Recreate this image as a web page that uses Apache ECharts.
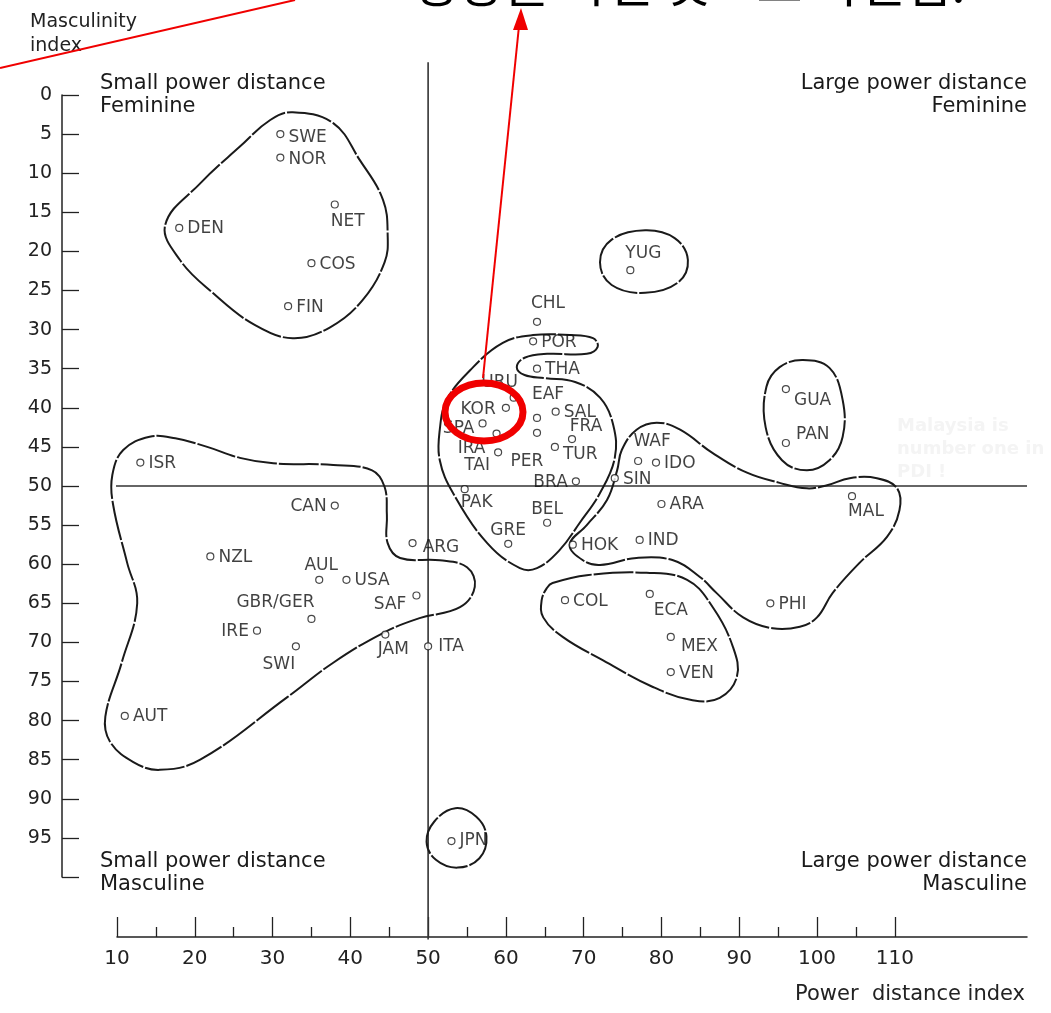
<!DOCTYPE html>
<html><head><meta charset="utf-8">
<script src="https://cdn.jsdelivr.net/npm/echarts@6/dist/echarts.min.js"></script>
<style>html,body{margin:0;padding:0;background:#fff}#c{width:1051px;height:1013px}</style>
</head><body><div id="c"></div>
<script>
// ---- data ----
const countries = ['SWE','NOR','DEN','NET','COS','FIN','ISR','CAN','NZL','AUL','USA','GBR/GER','IRE','SWI','AUT','ARG','SAF','JAM','ITA','JPN','YUG','CHL','POR','THA','URU','KOR','SPA','IRA','TAI','EAF','PER','SAL','FRA','TUR','BRA','PAK','BEL','GRE','HOK','IND','ARA','SIN','WAF','IDO','GUA','PAN','MAL','PHI','COL','ECA','MEX','VEN'];
const powerDistance = [31,31,18,38,35,32,13,38,22,36,39.5,35,28,33,11,48,48.5,44.5,50,53,76,64,63.5,64,61,60,57,58.8,59,64,64,66.4,68.5,66.3,69,54.7,65.3,60.3,68.6,77.2,80,74,77,79.3,96,96,104.5,94,67.6,78.5,81.2,81.2];
const masculinity  = [5,8,17,14,21.5,27,47,52.5,59,62,62,67,68.5,70.5,79.4,57.3,64,69,70.5,95.4,22.4,29,31.5,35,38.7,40,42,43.3,45.7,41.3,43.2,40.5,44,45,49.4,50.4,54.7,57.4,57.5,56.9,52.3,49,46.8,47,37.6,44.5,51.3,65,64.6,63.8,69.3,73.8];

const xTickValues = [10,20,30,40,50,60,70,80,90,100,110];
const xMinorTickValues = [15,25,35,45,55,65,75,85,95,105];
const splitPD = 50, splitMAS = 50;

const contourNordic = [[32.6,2.2],[37.8,3.6],[41.2,8.3],[44.2,13.4],[44.8,17.9],[44.4,21.4],[41.6,26.2],[37.4,29.7],[32.6,31.1],[27.7,29.4],[22.3,25.3],[18.1,21.1],[16.2,16.6],[20.7,11.3],[25.8,6.6],[29.7,3.2]];
const contourAnglo = [[14.2,43.7],[10.8,45.4],[9.4,48.6],[9.5,52.4],[11.3,59.8],[12.6,65.0],[10.6,72.6],[8.5,79.5],[9.1,82.7],[12.1,85.3],[15.5,86.3],[20.7,85.0],[31.9,77.0],[37.8,72.6],[44.2,68.8],[48.9,66.9],[54.1,65.5],[56.0,62.9],[55.0,60.4],[51.5,59.5],[46.4,59.2],[44.8,57.3],[44.7,53.7],[44.4,50.1],[42.8,48.0],[37.8,47.3],[30.1,47.1],[25.8,46.4],[21.6,45.0],[17.5,43.9]];
const contourJapan = [[53.5,91.2],[56.2,92.3],[57.5,94.8],[56.6,97.6],[53.8,98.8],[51.0,97.8],[49.8,95.5],[50.8,92.9]];
const contourYugoslavia = [[77.9,17.3],[81.7,18.3],[83.4,21.1],[82.1,24.0],[77.9,25.3],[73.6,24.3],[72.1,21.4],[73.6,18.5]];
const contourLatinEurope = [[51.5,42.8],[52.4,39.0],[55.4,35.2],[59.6,31.7],[63.5,30.7],[68.2,30.7],[71.2,31.1],[71.8,32.2],[70.4,33.1],[65.3,33.1],[62.4,33.6],[61.4,34.8],[62.4,35.8],[65.0,36.2],[68.9,36.7],[72.1,38.7],[73.8,42.2],[74.0,46.4],[72.1,50.9],[69.5,54.7],[66.9,58.2],[64.0,60.5],[61.8,60.5],[57.6,57.3],[53.2,50.9],[51.5,46.7]];
const contourAsia = [[68.2,57.5],[70.4,55.0],[73.0,51.8],[74.3,48.0],[74.9,45.4],[76.8,42.8],[79.4,41.9],[82.4,42.8],[86.6,45.8],[91.0,48.3],[95.2,49.6],[98.7,50.3],[101.3,49.9],[104.2,49.0],[107.7,49.0],[110.3,50.3],[110.6,53.1],[109.0,56.5],[105.5,59.8],[102.0,63.7],[100.0,66.8],[97.8,68.0],[94.3,68.2],[90.5,66.8],[87.1,63.7],[84.9,61.6],[81.5,59.5],[76.8,59.2],[72.1,60.1],[69.9,59.5]];
const contourLatinAmerica = [[66.0,62.4],[70.4,61.4],[78.1,61.1],[83.3,62.0],[86.6,65.5],[89.2,70.6],[89.7,74.4],[87.5,77.1],[84.0,77.4],[78.9,75.7],[72.5,72.3],[67.3,69.3],[64.8,66.8],[64.6,64.6],[65.3,63.0]];
const contourCentralAmerica = [[98.2,33.9],[101.6,34.9],[103.3,39.0],[103.3,43.7],[101.6,46.7],[98.7,48.0],[95.5,46.7],[93.4,42.5],[93.5,37.3],[95.2,34.8]];

const contours = [contourNordic, contourAnglo, contourJapan, contourYugoslavia, contourLatinEurope, contourAsia, contourLatinAmerica, contourCentralAmerica];

// ---- label placement (style) ----
const R='right', L='left', T='top', B='bottom';
const labelLayout = {
  'SWE':[R,0,3],'NOR':[R,0,2],'DEN':[R,0,1],'NET':[B,13,0],'COS':[R,0,1],'FIN':[R,0,1],
  'ISR':[R,0,1],'CAN':[L,0,1],'NZL':[R,0,1],'AUL':[T,2,2],'USA':[R,0,1],'GBR/GER':[T,-36,0],
  'IRE':[L,0,1],'SWI':[B,-17,2],'AUT':[R,0,1],'ARG':[R,2,4],'SAF':[L,-2,9],'JAM':[B,8,-2],
  'ITA':[R,2,0],'JPN':[R,0,0],'YUG':[T,13,0],'CHL':[T,11,-2],'POR':[R,0,1],'THA':[R,0,1],
  'URU':[T,-14,2],'KOR':[L,-2,2],'SPA':[L,0,5],'IRA':[L,-3,15],'TAI':[L,0,13],'EAF':[T,11,-7],
  'PER':[B,-10,12],'SAL':[R,0,1],'FRA':[T,14,4],'TUR':[R,0,8],'BRA':[L,0,1],'PAK':[B,12,-3],
  'BEL':[T,0,3],'GRE':[T,0,3],'HOK':[R,0,1],'IND':[R,0,1],'ARA':[R,0,1],'SIN':[R,0,1],
  'WAF':[T,14,-3],'IDO':[R,0,1],'GUA':[R,0,12],'PAN':[R,2,-8],'MAL':[B,14,-1],'PHI':[R,0,1],
  'COL':[R,0,1],'ECA':[B,21,0],'MEX':[R,2,10],'VEN':[R,0,1]
};

const FONT = '"DejaVu Sans", "Liberation Sans", sans-serif';
const INK = '#1a1a1a';

const points = countries.map((n, i) => {
  const lay = labelLayout[n] || [R,0,0];
  return { name: n, value: [powerDistance[i], masculinity[i]],
    label: { position: lay[0], offset: [lay[1], lay[2]], distance: 4 } };
});

const chart = echarts.init(document.getElementById('c'), null, {renderer: 'canvas'});

const option = {
  animation: false,
  backgroundColor: '#fff',
  grid: { left: 117, right: 24, top: 95, bottom: 136, containLabel: false, outerBoundsMode: 'none' },
  xAxis: [{
    type: 'value', min: 10, max: 127, position: 'bottom', offset: 60,
    axisLine: { show: true, onZero: false, lineStyle: { color: '#222', width: 1.5 } },
    axisTick: { show: true, inside: true, length: 20, customValues: xTickValues, lineStyle: { color: '#222', width: 1.3 } },
    axisLabel: { show: true, customValues: xTickValues, fontSize: 20, fontFamily: FONT, color: '#222', margin: 12 },
    splitLine: { show: false }
  }, {
    type: 'value', min: 10, max: 127, position: 'bottom', offset: 60,
    axisLine: { show: false, onZero: false },
    axisTick: { show: true, inside: true, length: 10, customValues: xMinorTickValues, lineStyle: { color: '#222', width: 1.3 } },
    axisLabel: { show: false },
    splitLine: { show: false }
  }],
  yAxis: {
    type: 'value', inverse: true, min: 0, max: 100, interval: 5, position: 'left', offset: 55,
    axisLine: { show: true, onZero: false, lineStyle: { color: '#222', width: 1.5 } },
    axisTick: { show: true, inside: true, length: 17, lineStyle: { color: '#222', width: 1.3 } },
    axisLabel: { fontSize: 19, fontFamily: FONT, color: '#222', margin: 10,
      formatter: v => (v === 100 ? '' : String(v)) },
    splitLine: { show: false }
  },
  series: [
    {
      type: 'line', silent: true, clip: false, symbol: 'none',
      data: [[splitPD, -4.2], [splitPD, 108]],
      lineStyle: { color: '#333', width: 1.6 }, z: 1
    },
    {
      type: 'line', silent: true, clip: false, symbol: 'none',
      data: [[2.9, splitMAS], [127, splitMAS]],
      lineStyle: { color: '#333', width: 1.6 }, z: 1
    },
    {
      type: 'custom', silent: true, clip: false, z: 3,
      data: contours.map(c => c[0]),
      renderItem: (params, api) => {
        const pts = contours[params.dataIndex].map(p => api.coord(p));
        return { type: 'polygon', shape: { points: pts, smooth: 0.4 },
          style: { fill: 'none', stroke: INK, lineWidth: 2, lineDash: [40, 2] } };
      }
    },
    {
      type: 'scatter', clip: false, z: 4,
      symbol: 'circle', symbolSize: 7,
      itemStyle: { color: '#fff', borderColor: INK, borderWidth: 1.2 },
      label: { show: true, formatter: '{b}', fontSize: 17, fontFamily: FONT, color: '#111' },
      data: points
    }
  ],
  graphic: [
    { type: 'text', left: 30, top: 10, style: { text: 'Masculinity\nindex', font: '19px ' + FONT, lineHeight: 24, fill: '#222' } },
    { type: 'text', x: 100, y: 72, style: { text: 'Small power distance\nFeminine', font: '21px ' + FONT, lineHeight: 23, fill: INK, align: 'left', verticalAlign: 'top' } },
    { type: 'text', x: 1027, y: 72, style: { text: 'Large power distance\nFeminine', font: '21px ' + FONT, lineHeight: 23, fill: INK, align: 'right', verticalAlign: 'top' } },
    { type: 'text', x: 100, y: 850, style: { text: 'Small power distance\nMasculine', font: '21px ' + FONT, lineHeight: 23, fill: INK, align: 'left', verticalAlign: 'top' } },
    { type: 'text', x: 1027, y: 850, style: { text: 'Large power distance\nMasculine', font: '21px ' + FONT, lineHeight: 23, fill: INK, align: 'right', verticalAlign: 'top' } },
    { type: 'text', x: 1025, y: 995, style: { text: 'Power  distance index', font: '21px ' + FONT, fill: '#222', align: 'right', verticalAlign: 'middle' } },
    { type: 'text', x: 897, y: 415, style: { text: 'Malaysia is\nnumber one in\nPDI !', font: 'bold 18px ' + FONT, lineHeight: 23, fill: '#f4f4f4', align: 'left', verticalAlign: 'top' } },
    { type: 'text', x: 412, y: 8, z: 100, style: { text: '성향을 가진 것으로 확인됨.', font: '50px "Noto Sans CJK KR", sans-serif', fill: '#000', align: 'left', verticalAlign: 'bottom' } },
    { type: 'line', z: 100, shape: { x1: 0, y1: 68, x2: 295, y2: 0 }, style: { stroke: '#f00000', lineWidth: 2 } },
    { type: 'line', z: 100, shape: { x1: 483, y1: 378, x2: 519, y2: 26 }, style: { stroke: '#f00000', lineWidth: 2 } },
    { type: 'polygon', z: 100, shape: { points: [[521, 8], [513, 30], [528, 30]] }, style: { fill: '#f00000' } },
    { type: 'ellipse', z: 100, shape: { cx: 484, cy: 412, rx: 39, ry: 29 }, style: { fill: 'none', stroke: '#f00000', lineWidth: 7 } }
  ]
};
chart.setOption(option);
</script>
</body></html>
